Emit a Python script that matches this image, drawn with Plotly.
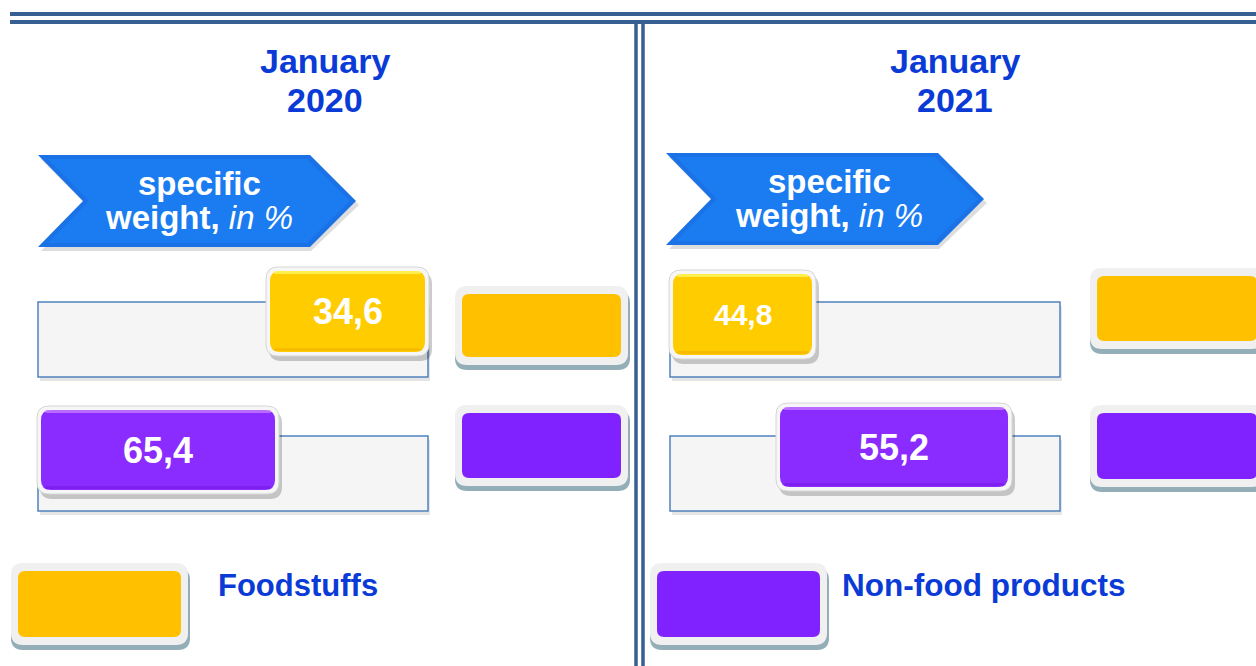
import plotly.graph_objects as go

# ---- data -----------------------------------------------------------------
months = ["January", "January"]
years = ["2020", "2021"]
categories = ["Foodstuffs", "Non-food products"]
values_2020 = [34.6, 65.4]
values_2021 = [44.8, 55.2]
badge_colors = ["#FFCC00", "#8A2BFF"]
swatch_colors = ["#FFC000", "#7F22FF"]

W, H = 1256, 666
BLUE_TEXT = "#0B3BD6"
FRAME = "#376092"
FONT = "Arial, Liberation Sans, sans-serif"

shapes = []
annotations = []


def rrect_path(x0, y0, x1, y1, r):
    return (f"M{x0 + r},{y0} L{x1 - r},{y0} Q{x1},{y0} {x1},{y0 + r} "
            f"L{x1},{y1 - r} Q{x1},{y1} {x1 - r},{y1} L{x0 + r},{y1} "
            f"Q{x0},{y1} {x0},{y1 - r} L{x0},{y0 + r} Q{x0},{y0} {x0 + r},{y0} Z")


def add_path(path, fill, line_color=None, line_width=0):
    shapes.append(dict(type="path", path=path, xref="x", yref="y",
                       fillcolor=fill, layer="above",
                       line=dict(color=line_color or fill, width=line_width)))


def add_rect(x0, y0, x1, y1, fill, line_color=None, line_width=0):
    shapes.append(dict(type="rect", x0=x0, y0=y0, x1=x1, y1=y1, xref="x", yref="y",
                       fillcolor=fill, layer="above",
                       line=dict(color=line_color or fill, width=line_width)))


def add_line(x0, y0, x1, y1, color, width):
    shapes.append(dict(type="line", x0=x0, y0=y0, x1=x1, y1=y1, xref="x", yref="y",
                       layer="above", line=dict(color=color, width=width)))


def add_text(x, y, text, size, color, xanchor="center"):
    annotations.append(dict(x=x, y=y, xref="x", yref="y", text=text, showarrow=False,
                            xanchor=xanchor, yanchor="middle",
                            font=dict(family=FONT, size=size, color=color)))


def fmt(v):
    return f"{v:.1f}".replace(".", ",")


def track(x0, y0, x1, y1):
    add_rect(x0 + 2, y0 + 4, x1 + 2, y1 + 4, "rgba(0,0,0,0.10)")
    add_rect(x0, y0, x1, y1, "#F5F5F5", "#4F81BD", 1.5)


def badge(x0, y0, x1, y1, color, text, size):
    add_path(rrect_path(x0 + 3, y0 + 5, x1 + 3, y1 + 5, 12), "rgba(0,0,0,0.20)")
    add_path(rrect_path(x0, y0, x1, y1, 12), "#F6F6F6", "#D6D6D6", 1)
    add_path(rrect_path(x0 + 4, y0 + 4, x1 - 4, y1 - 4, 10), color)
    # soft gloss along the top and a darker rim at the bottom
    if color == "#FFCC00":
        hi, lo = "rgba(255,245,90,0.85)", "rgba(240,175,0,0.55)"
    else:
        hi, lo = "rgba(200,130,255,0.75)", "rgba(110,20,220,0.45)"
    add_path(rrect_path(x0 + 8, y0 + 4, x1 - 8, y0 + 7, 1.5), hi)
    add_path(rrect_path(x0 + 8, y1 - 8, x1 - 8, y1 - 5, 1.5), lo)
    add_text((x0 + x1) / 2, (y0 + y1) / 2, f"<b>{text}</b>", size, "white")


def swatch(x0, y0, x1, y1, color):
    add_path(rrect_path(x0, y0 + 5, x1 + 2, y1 + 5, 12), "#94AEB8")
    add_path(rrect_path(x0, y0, x1, y1, 12), "#F0F0F0")
    add_path(rrect_path(x0 + 7, y0 + 8, x1 - 7, y1 - 8, 7), color)


def ribbon(dx, y_off):
    pts_shadow = [(41, 159), (311, 159), (359, 205), (311, 251), (41, 251), (86, 205)]
    pts = [(38, 155), (310, 155), (356, 201), (310, 247), (38, 247), (83, 201)]
    inner = [(48, 159), (307, 159), (350, 201), (307, 243), (48, 243), (89, 201)]
    for poly, fill in ((pts_shadow, "rgba(0,0,0,0.13)"), (pts, "#1B72E6"), (inner, "#1A7CF0")):
        p = "M" + " L".join(f"{x + dx},{y + y_off}" for x, y in poly) + " Z"
        add_path(p, fill)


# ---- frame lines ----------------------------------------------------------
add_line(10, 14, W, 14, FRAME, 4)
add_line(10, 22, W, 22, FRAME, 4)
add_line(636, 20, 636, H, FRAME, 3.5)
add_line(643, 20, 643, H, FRAME, 3.5)
add_rect(638.2, 24, 640.8, H, "white")

# ---- panels ---------------------------------------------------------------
panels = [
    dict(dx=0, month=months[0], year=years[0], vals=values_2020,
         badges=[(266, 267, 429, 356), (37, 406, 279, 494)], sizes=[36, 36],
         sw=[(455, 286, 628, 365), (455, 405, 628, 486)], rib=0),
    dict(dx=630, month=months[1], year=years[1], vals=values_2021,
         badges=[(669, 270, 816, 359), (776, 403, 1012, 491)], sizes=[30, 36],
         sw=[(1090, 268, 1264, 349), (1090, 405, 1264, 487)], rib=-2),
]

for p in panels:
    dx = p["dx"]
    add_text(325 + dx, 61, f"<b>{p['month']}</b>", 34, BLUE_TEXT)
    add_text(325 + dx, 100, f"<b>{p['year']}</b>", 34, BLUE_TEXT)
    ribbon(dx - 2 if dx else 0, p["rib"])
    add_text(200 + dx - 1, 183 + p["rib"], "<b>specific</b>", 33, "white")
    add_text(200 + dx - 1, 217 + p["rib"], "<b>weight,</b> <i>in %</i>", 33, "white")
    tx0 = 38 if dx == 0 else 670
    track(tx0, 302, tx0 + 390, 377)
    track(tx0, 436, tx0 + 390, 511)
    for i in range(2):
        badge(*p["badges"][i], badge_colors[i], fmt(p["vals"][i]), p["sizes"][i])
        swatch(*p["sw"][i], swatch_colors[i])

# ---- legend ---------------------------------------------------------------
swatch(11, 563, 188, 645, swatch_colors[0])
add_text(216, 585, f"<b>{categories[0]}</b>", 31, BLUE_TEXT, "left")
swatch(650, 563, 827, 645, swatch_colors[1])
add_text(840, 585, f"<b>{categories[1]}</b>", 31.5, BLUE_TEXT, "left")

fig = go.Figure()
fig.add_trace(go.Scatter(x=[], y=[], hoverinfo="skip", showlegend=False))
fig.update_layout(
    width=W, height=H, margin=dict(l=0, r=0, t=0, b=0),
    paper_bgcolor="white", plot_bgcolor="white",
    xaxis=dict(range=[0, W], visible=False, fixedrange=True),
    yaxis=dict(range=[H, 0], visible=False, fixedrange=True),
    shapes=shapes, annotations=annotations, showlegend=False,
)
fig.write_html("out.html")
